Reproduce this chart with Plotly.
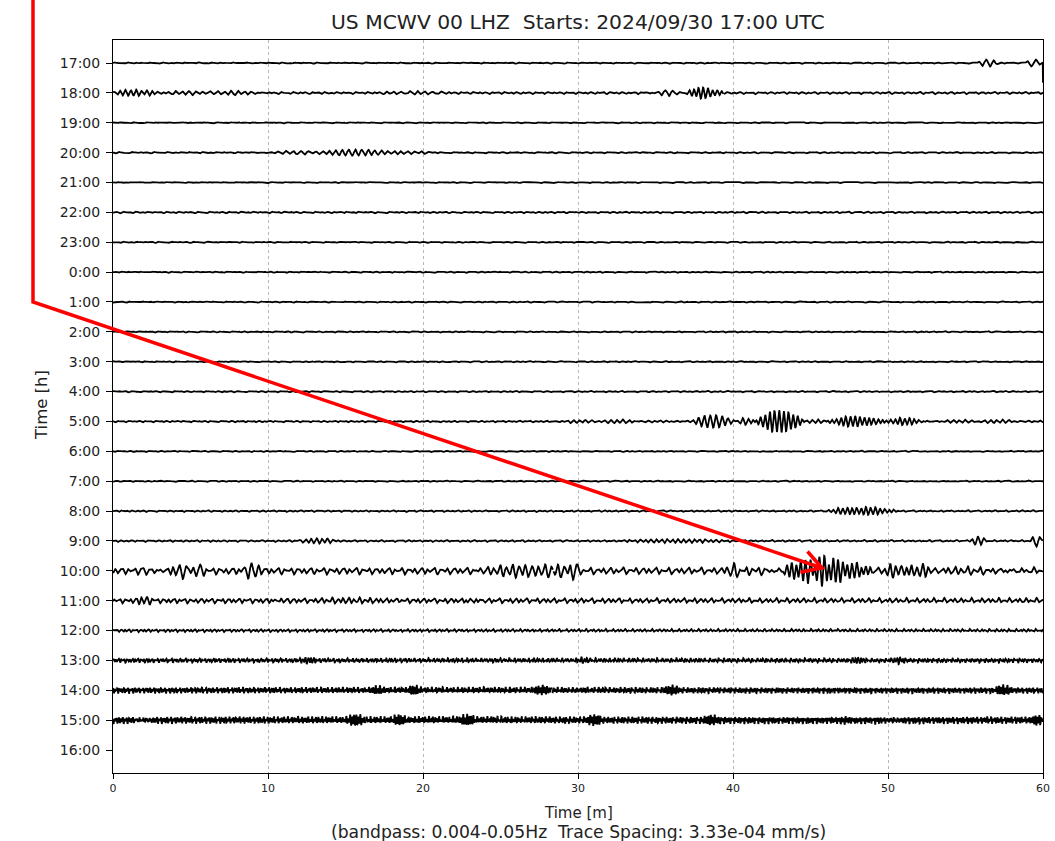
import numpy as np
import plotly.graph_objects as go

# ---------------- data ----------------
hour_labels = ["17:00", "18:00", "19:00", "20:00", "21:00", "22:00", "23:00", "0:00",
               "1:00", "2:00", "3:00", "4:00", "5:00", "6:00", "7:00", "8:00",
               "9:00", "10:00", "11:00", "12:00", "13:00", "14:00", "15:00", "16:00"]
minute_ticks = [0, 10, 20, 30, 40, 50, 60]
trace_spacing = 3.33e-04          # mm/s per row
amp_unit = 1e-5                   # amplitudes below are in 1e-5 mm/s

# background noise level per row (1e-5 mm/s) and dominant period (minutes); None = no data yet
background_amp = [0.7, 1.2, 0.6, 0.8, 0.6, 0.9, 0.7, 0.7, 0.7, 0.7, 0.7, 0.8,
                  0.9, 0.7, 0.7, 0.9, 1.0, 3.6, 2.6, 1.5, 2.3, 3.2, 3.8, None]
background_period = [0.45, 0.4, 0.45, 0.45, 0.45, 0.4, 0.45, 0.4, 0.45, 0.4, 0.4, 0.4,
                     0.35, 0.4, 0.4, 0.35, 0.35, 0.42, 0.35, 0.25, 0.18, 0.14, 0.13, 0.4]

# wave packets: row index, start minute, end minute, peak amplitude (1e-5 mm/s), period (min)
pk_row = [0, 0,
          1, 1, 1, 1, 1,
          3, 3, 3,
          12, 12, 12, 12, 12, 12, 12, 12,
          15,
          16, 16, 16, 16,
          17, 17, 17, 17, 17, 17, 17, 17, 17, 17, 17, 17, 17,
          18, 18, 18, 18,
          20, 20, 20, 20, 20,
          21, 21, 21, 21, 21, 21,
          22, 22, 22, 22, 22, 22, 22, 22, 22]
pk_start = [55.7, 58.8,
            0.0, 3.0, 17.0, 34.5, 36.8,
            9.0, 13.0, 18.0,
            28.0, 37.3, 40.2, 41.4, 44.6, 46.0, 49.5, 52.5,
            45.8,
            12.0, 31.8, 55.3, 59.2,
            1.8, 3.7, 5.0, 8.3, 23.3, 27.0, 29.3, 39.5, 40.7, 42.8, 44.5, 49.0, 53.4,
            1.4, 10.3, 12.0, 22.6,
            12.0, 24.2, 29.8, 47.5, 50.2,
            16.5, 19.0, 27.0, 30.0, 35.5, 56.7,
            1.3, 15.0, 18.0, 22.3, 30.5, 38.0, 46.7, 49.8, 59.2]
pk_end = [57.2, 59.9,
          3.0, 10.0, 22.0, 37.3, 39.4,
          14.0, 19.0, 21.0,
          36.0, 40.2, 41.4, 44.6, 46.0, 49.8, 52.5, 60.0,
          50.8,
          14.5, 40.8, 56.3, 60.0,
          3.2, 4.9, 6.0, 9.6, 28.4, 30.0, 30.2, 40.5, 42.8, 49.0, 46.6, 53.4, 60.0,
          2.6, 11.4, 18.5, 24.0,
          13.2, 25.3, 30.8, 48.6, 51.2,
          17.6, 19.9, 28.3, 31.0, 36.6, 58.2,
          2.6, 16.3, 18.9, 23.4, 31.6, 39.2, 47.8, 50.9, 60.0]
pk_amp = [3.5, 3.5,
          3.5, 1.8, 1.4, 2.2, 5.5,
          1.4, 3.2, 1.6,
          1.4, 7.0, 3.4, 12.0, 1.7, 5.5, 3.4, 1.4,
          3.8,
          2.2, 2.2, 4.5, 6.0,
          5.0, 6.5, 4.5, 7.0, 4.0, 4.0, 6.0, 5.0, 3.0, 12.0, 5.0, 5.5, 2.0,
          2.5, 3.0, 2.2, 3.0,
          2.0, 2.0, 2.0, 2.0, 2.0,
          3.0, 3.0, 3.5, 3.0, 3.0, 5.5,
          3.0, 4.0, 3.0, 3.0, 3.0, 4.0, 3.5, 3.5, 3.5]
pk_period = [0.5, 0.6,
             0.35, 0.45, 0.5, 0.5, 0.3,
             0.5, 0.42, 0.45,
             0.4, 0.38, 0.35, 0.3, 0.4, 0.3, 0.3, 0.4,
             0.3,
             0.35, 0.35, 0.4, 0.5,
             0.5, 0.45, 0.5, 0.5, 0.4, 0.4, 0.5, 0.45, 0.4, 0.3, 0.45, 0.35, 0.4,
             0.35, 0.4, 0.35, 0.35,
             0.18, 0.18, 0.18, 0.18, 0.18,
             0.14, 0.14, 0.14, 0.14, 0.14, 0.14,
             0.13, 0.13, 0.13, 0.13, 0.13, 0.13, 0.13, 0.13, 0.13]

# last sample of the newest row falls off (1e-5 mm/s)
end_step_row = [0]
end_step_value = [-22.0]

title_text = "US MCWV 00 LHZ  Starts: 2024/09/30 17:00 UTC"
xlabel_text = "Time [m]"
sub_text = "(bandpass: 0.004-0.05Hz  Trace Spacing: 3.33e-04 mm/s)"
ylabel_text = "Time [h]"

# ---------------- build traces ----------------
t = np.linspace(0, 60, 3601)
scale = amp_unit / trace_spacing
fig = go.Figure()

for i, lab in enumerate(hour_labels):
    a = background_amp[i]
    if a is None:
        continue
    p = background_period[i]
    sig = a * (0.55 * np.sin(2 * np.pi * t / p + 0.7 * i)
               + 0.35 * np.sin(2 * np.pi * t / (p * 1.71) + 1.3 * i)
               + 0.30 * np.sin(2 * np.pi * t / (p * 0.63) + 2.1 * i))
    for r, s, e, A, per in zip(pk_row, pk_start, pk_end, pk_amp, pk_period):
        if r != i:
            continue
        m = (t >= s) & (t <= e)
        env = np.sin(np.pi * (t[m] - s) / (e - s)) ** 0.8
        sig[m] += A * env * np.sin(2 * np.pi * (t[m] - s) / per)
    for r, v in zip(end_step_row, end_step_value):
        if r == i:
            sig[-1] = v
    fig.add_trace(go.Scatter(x=t, y=-i + sig * scale, mode="lines",
                             line=dict(color="black", width=1.8),
                             hoverinfo="skip", showlegend=False))

# ---------------- layout ----------------
W, H = 1055, 841
L, R, T, B = 113, 12, 40, 68
pw, ph = W - L - R, H - T - B


def px(x):
    return (x - L) / pw


def py(y):
    return (H - B - y) / ph


fig.update_layout(
    width=W, height=H,
    margin=dict(l=L, r=R, t=T, b=B, autoexpand=False),
    paper_bgcolor="white", plot_bgcolor="white",
    font=dict(family="DejaVu Sans", color="#222222"),
    xaxis=dict(range=[0, 60], tickvals=minute_ticks, ticktext=[str(v) for v in minute_ticks],
               ticks="outside", ticklen=5, tickcolor="black", tickfont=dict(size=11, color="#222"),
               showgrid=True, gridcolor="#b8b8b8", griddash="dot", gridwidth=1,
               zeroline=False, showline=True, linecolor="black", linewidth=1, mirror=True),
    yaxis=dict(range=[-(len(hour_labels) - 1) - 0.77, 0.77],
               tickvals=[-i for i in range(len(hour_labels))], ticktext=hour_labels,
               ticks="outside", ticklen=6, tickcolor="black", tickfont=dict(size=14, color="#222"),
               ticklabelstandoff=3,
               showgrid=False, zeroline=False, showline=True, linecolor="black",
               linewidth=1, mirror=True),
    annotations=[
        dict(text=title_text, xref="paper", yref="paper", x=0.5, y=py(22),
             xanchor="center", yanchor="middle", showarrow=False,
             font=dict(size=20.3, color="#222")),
        dict(text=xlabel_text, xref="paper", yref="paper", x=0.5, y=py(813),
             xanchor="center", yanchor="middle", showarrow=False,
             font=dict(size=15, color="#222")),
        dict(text=sub_text, xref="paper", yref="paper", x=0.5, y=py(831.5),
             xanchor="center", yanchor="middle", showarrow=False,
             font=dict(size=17.2, color="#222")),
        dict(text=ylabel_text, xref="paper", yref="paper", x=px(42), y=py(405),
             xanchor="center", yanchor="middle", showarrow=False, textangle=-90,
             font=dict(size=16.5, color="#222")),
    ],
)

# red arrow annotation
red = "#ff0000"
tip = (822, 568)
corner = (33, 302)
path = (f"M {px(33)} {py(-2)} L {px(corner[0])} {py(corner[1])} "
        f"L {px(tip[0])} {py(tip[1])}")
fig.add_shape(type="path", xref="paper", yref="paper", path=path,
              line=dict(color=red, width=3.5))
head = (f"M {px(807.5)} {py(551.5)} L {px(tip[0])} {py(tip[1])} L {px(800.4)} {py(572.3)}")
fig.add_shape(type="path", xref="paper", yref="paper", path=head,
              line=dict(color=red, width=3.5))

fig.write_html("out.html", config={"displayModeBar": False},
               post_script="document.body.style.margin='0px';document.body.style.overflow='hidden';")
